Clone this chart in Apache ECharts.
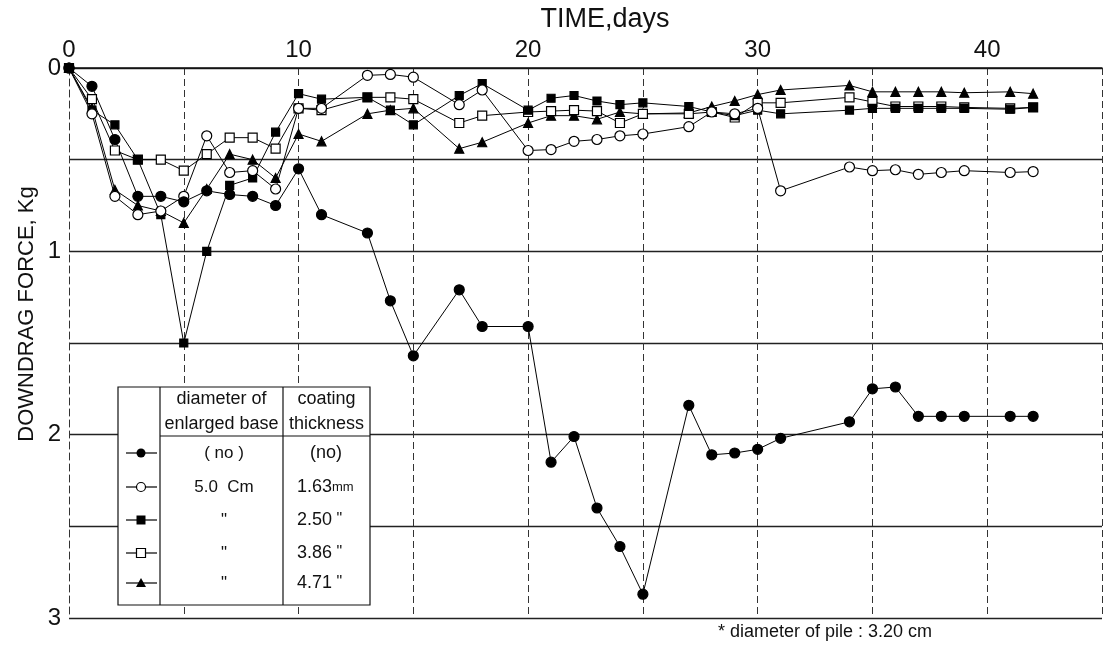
<!DOCTYPE html>
<html>
<head>
<meta charset="utf-8">
<title>Downdrag force</title>
<script src="https://cdn.jsdelivr.net/npm/echarts@6/dist/echarts.min.js"></script>
<style>
    html, body { margin: 0; padding: 0; background: #fff; }
    #chart { width: 1105px; height: 645px; }
</style>
</head>
<body>
<div id="chart"></div>
<script>
    // 时间 (days)
    var days = [0, 1, 2, 3, 4, 5, 6, 7, 8, 9, 10, 11, 13, 14, 15, 17, 18, 20, 21, 22, 23, 24, 25, 27, 28, 29, 30, 31, 34, 35, 36, 37, 38, 39, 41, 42];
    // downdrag force, Kg
    var noBase = [0, 0.10, 0.39, 0.70, 0.70, 0.73, 0.67, 0.69, 0.70, 0.75, 0.55, 0.80, 0.90, 1.27, 1.57, 1.21, 1.41, 1.41, 2.15, 2.01, 2.40, 2.61, 2.87, 1.84, 2.11, 2.10, 2.08, 2.02, 1.93, 1.75, 1.74, 1.90, 1.90, 1.90, 1.90, 1.90];
    var coat163 = [0, 0.25, 0.70, 0.80, 0.78, 0.70, 0.37, 0.57, 0.56, 0.66, 0.22, 0.22, 0.04, 0.035, 0.05, 0.20, 0.12, 0.45, 0.445, 0.40, 0.39, 0.37, 0.36, 0.32, 0.24, 0.25, 0.22, 0.67, 0.54, 0.56, 0.555, 0.58, 0.57, 0.56, 0.57, 0.565];
    var coat250 = [0, 0.23, 0.31, 0.50, 0.80, 1.50, 1.00, 0.64, 0.60, 0.35, 0.14, 0.17, 0.16, 0.23, 0.31, 0.15, 0.085, 0.23, 0.165, 0.15, 0.18, 0.20, 0.19, 0.21, 0.24, 0.26, 0.23, 0.25, 0.23, 0.22, 0.22, 0.22, 0.22, 0.22, 0.225, 0.215];
    var coat386 = [0, 0.17, 0.45, 0.50, 0.50, 0.56, 0.47, 0.38, 0.38, 0.44, 0.22, 0.23, 0.16, 0.16, 0.17, 0.30, 0.26, 0.24, 0.235, 0.23, 0.235, 0.30, 0.25, 0.25, 0.24, 0.27, 0.19, 0.19, 0.16, 0.185, 0.21, 0.21, 0.21, 0.215, 0.22, 0.215];
    var coat471 = [0, 0.22, 0.665, 0.75, 0.78, 0.845, 0.66, 0.47, 0.50, 0.60, 0.36, 0.40, 0.25, 0.23, 0.22, 0.44, 0.405, 0.30, 0.26, 0.26, 0.28, 0.24, 0.25, 0.245, 0.21, 0.18, 0.145, 0.12, 0.095, 0.13, 0.13, 0.13, 0.13, 0.135, 0.13, 0.14];

    var xTicks = [0, 10, 20, 30, 40];
    var yTicks = [0, 1, 2, 3];

    // legend table texts
    var baseTexts = ['( no )', '5.0  Cm', '"', '"', '"'];
    var coatTexts = ['(no)', '1.63', '2.50', '3.86', '4.71'];
    var coatUnits = ['', 'mm', ' "', ' "', ' "'];

    var FONT = 'Liberation Sans';
    var INK = '#111';

    function pairs(vals) {
        return days.map(function (d, i) { return [d, vals[i]]; });
    }

    function lineSeries(name, vals, symbol, size, fill) {
        return {
            name: name,
            type: 'line',
            data: pairs(vals),
            symbol: symbol,
            symbolSize: size,
            showAllSymbol: true,
            lineStyle: { color: '#000', width: 1 },
            itemStyle: { color: fill, borderColor: '#000', borderWidth: 1.2 },
            emphasis: { disabled: true }
        };
    }

    /* 图例表格 */
    function legendTable() {
        var left = 118, c1 = 160, c2 = 283, right = 370;
        var top = 387, head = 436, bottom = 605;
        var rows = [453, 487, 520, 553, 583];
        var els = [];
        els.push({ type: 'rect', shape: { x: left, y: top, width: right - left, height: bottom - top },
            style: { fill: '#fff', stroke: INK, lineWidth: 1.2 }, z: 100 });
        els.push({ type: 'line', shape: { x1: c1, y1: top, x2: c1, y2: bottom }, style: { stroke: INK, lineWidth: 1.2 }, z: 101 });
        els.push({ type: 'line', shape: { x1: c2, y1: top, x2: c2, y2: bottom }, style: { stroke: INK, lineWidth: 1.2 }, z: 101 });
        els.push({ type: 'line', shape: { x1: c1, y1: head, x2: right, y2: head }, style: { stroke: INK, lineWidth: 1.2 }, z: 101 });

        var heads = [['diameter of', (c1 + c2) / 2, 399], ['enlarged base', (c1 + c2) / 2, 424],
            ['coating', (c2 + right) / 2, 399], ['thickness', (c2 + right) / 2, 424]];
        heads.forEach(function (h) {
            els.push({ type: 'text', x: h[1], y: h[2], z: 102,
                style: { text: h[0], fill: INK, font: '18px ' + FONT, align: 'center', verticalAlign: 'middle' } });
        });

        var mx = 141;
        rows.forEach(function (y, i) {
            els.push({ type: 'line', shape: { x1: 126, y1: y, x2: 157, y2: y }, style: { stroke: '#000', lineWidth: 1.2 }, z: 101 });
            var mark;
            if (i === 0) mark = { type: 'circle', shape: { cx: mx, cy: y, r: 4.5 }, style: { fill: '#000' } };
            if (i === 1) mark = { type: 'circle', shape: { cx: mx, cy: y, r: 4.5 }, style: { fill: '#fff', stroke: '#000', lineWidth: 1.2 } };
            if (i === 2) mark = { type: 'rect', shape: { x: mx - 4.5, y: y - 4.5, width: 9, height: 9 }, style: { fill: '#000' } };
            if (i === 3) mark = { type: 'rect', shape: { x: mx - 4.5, y: y - 4.5, width: 9, height: 9 }, style: { fill: '#fff', stroke: '#000', lineWidth: 1.2 } };
            if (i === 4) mark = { type: 'polygon', shape: { points: [[mx, y - 5], [mx - 5, y + 4], [mx + 5, y + 4]] }, style: { fill: '#000' } };
            mark.z = 102;
            els.push(mark);

            els.push({ type: 'text', x: 224, y: y, z: 102,
                style: { text: baseTexts[i], fill: INK, font: '17px ' + FONT, align: 'center', verticalAlign: 'middle' } });
            els.push({ type: 'text', x: i === 0 ? 326 : 297, y: y, z: 102,
                style: {
                    text: '{n|' + coatTexts[i] + '}{u|' + coatUnits[i] + '}',
                    align: i === 0 ? 'center' : 'left', verticalAlign: 'middle',
                    rich: {
                        n: { fontFamily: FONT, fontSize: 18, fill: INK },
                        u: { fontFamily: FONT, fontSize: i === 1 ? 13 : 16, fill: INK }
                    }
                } });
        });
        return els;
    }

    var myChart = echarts.init(document.getElementById('chart'), null, { renderer: 'canvas' });
    var option = {
        backgroundColor: '#fff',
        animation: false,
        grid: { left: 69, right: 0, top: 68, bottom: 27 },
        xAxis: {
            type: 'value',
            position: 'top',
            min: 0,
            max: 45,
            interval: 5,
            axisLine: { show: true, lineStyle: { color: INK, width: 1.5 } },
            axisTick: { show: false },
            axisLabel: {
                margin: 6,
                fontFamily: FONT,
                fontSize: 24,
                color: INK,
                formatter: function (v) { return xTicks.indexOf(v) >= 0 ? String(v) : ''; }
            },
            splitLine: { show: true, lineStyle: { color: '#333', width: 1, type: [7, 4] } }
        },
        yAxis: {
            type: 'value',
            inverse: true,
            min: 0,
            max: 3,
            interval: 0.5,
            axisLine: { show: true, lineStyle: { color: '#333', width: 1, type: [7, 4] } },
            axisTick: { show: false },
            axisLabel: {
                margin: 8,
                fontFamily: FONT,
                fontSize: 24,
                color: INK,
                formatter: function (v) { return yTicks.indexOf(v) >= 0 ? String(v) : ''; }
            },
            splitLine: { show: true, lineStyle: { color: '#222', width: 1.3 } }
        },
        series: [
            lineSeries('4.71 mm', coat471, 'triangle', 9, '#000'),
            lineSeries('3.86 mm', coat386, 'rect', 9, '#fff'),
            lineSeries('2.50 mm', coat250, 'rect', 8, '#000'),
            lineSeries('1.63 mm', coat163, 'circle', 10, '#fff'),
            lineSeries('(no)', noBase, 'circle', 10, '#000')
        ],
        graphic: [
            { type: 'text', x: 605, y: 20, z: 100,
                style: { text: 'TIME,days', fill: INK, font: '27px ' + FONT, align: 'center', verticalAlign: 'middle' } },
            { type: 'text', x: 27, y: 314, rotation: Math.PI / 2, z: 100,
                style: { text: 'DOWNDRAG FORCE, Kg', fill: INK, font: '22px ' + FONT, align: 'center', verticalAlign: 'middle' } },
            { type: 'text', x: 825, y: 632, z: 100,
                style: { text: '* diameter of pile : 3.20 cm', fill: INK, font: '18px ' + FONT, align: 'center', verticalAlign: 'middle' } }
        ].concat(legendTable())
    };
    myChart.setOption(option);
</script>
</body>
</html>
